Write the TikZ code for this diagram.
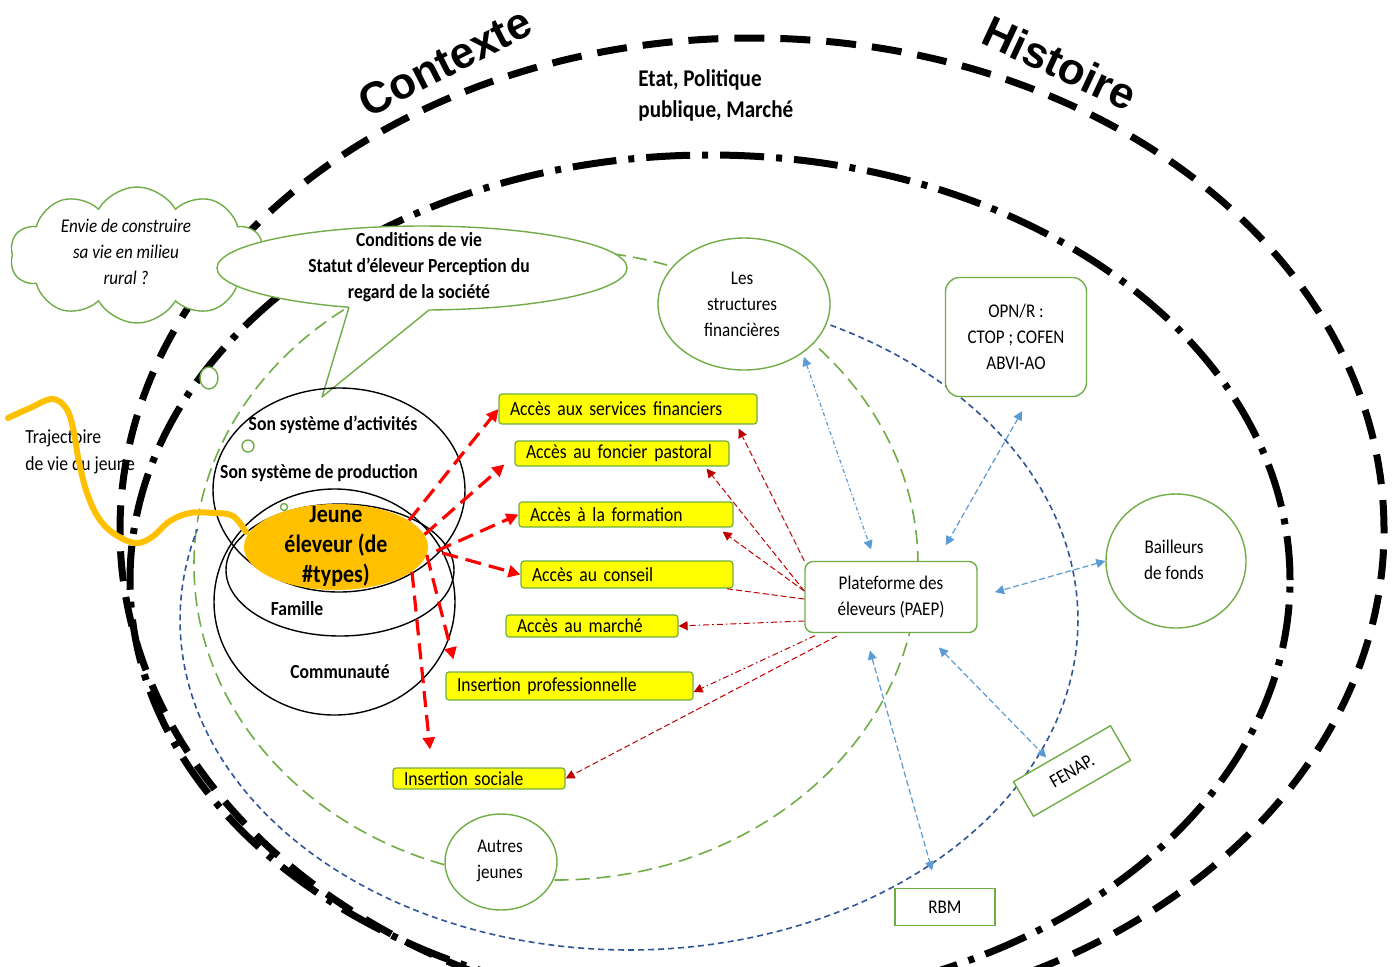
\documentclass[tikz,border=0pt]{standalone}
\usepackage{fontspec}
\setmainfont{Carlito}[FakeStretch=0.88]
\newfontfamily\titlefont{Liberation Sans}
\usetikzlibrary{shapes.geometric,shapes.symbols,arrows.meta}
\definecolor{vert}{RGB}{112,173,71}
\definecolor{bleu}{RGB}{47,85,151}
\definecolor{bleuc}{RGB}{91,155,213}
\definecolor{rouge}{RGB}{255,0,0}
\definecolor{rougef}{RGB}{192,0,0}
\definecolor{orangej}{RGB}{255,192,0}
\definecolor{jaune}{RGB}{255,255,0}
\tikzset{
 outerdash/.style={line width=3.5pt, dash pattern=on 15pt off 8pt},
 innerdashdot/.style={line width=3.5pt, dash pattern=on 22pt off 6pt on 3pt off 6pt},
 greendash/.style={draw=vert, line width=0.8pt, dash pattern=on 7pt off 3.5pt},
 bluedash/.style={draw=bleu, line width=0.8pt, dash pattern=on 3pt off 2pt},
 blackell/.style={ellipse, draw=black, line width=0.7pt, inner sep=0pt},
 greennode/.style={draw=vert, line width=0.7pt, fill=white, inner sep=0pt},
 txt/.style={font=\fontsize{9.7}{13}\selectfont, align=center},
 boldtxt/.style={font=\bfseries\fontsize{10}{13}\selectfont, align=center},
 ybox/.style={draw=vert, fill=jaune, line width=0.6pt, rounded corners=1.5pt, inner xsep=5.5pt, inner ysep=0pt, align=left, font=\fontsize{10}{12}\selectfont},
 rarrow/.style={draw=rouge, line width=1.6pt, dash pattern=on 8pt off 4pt, -{Triangle[length=6pt,width=6pt]}},
 drarrow/.style={draw=rougef, line width=0.5pt, dash pattern=on 3pt off 1.5pt, -{Triangle[length=4.5pt,width=4.5pt]}},
 drline/.style={draw=rougef, line width=0.5pt, dash pattern=on 3pt off 1.5pt},
 drdashdot/.style={draw=rougef, line width=0.5pt, dash pattern=on 3pt off 1.5pt on 0.8pt off 1.5pt, -{Triangle[length=4.5pt,width=4.5pt]}},
 barrow/.style={draw=bleuc, line width=0.6pt, dash pattern=on 3pt off 1.5pt, {Triangle[length=4.5pt,width=4.5pt]}-{Triangle[length=4.5pt,width=4.5pt]}},
 barrowdot/.style={barrow, dash pattern=on 2pt off 1.2pt on 0.6pt off 1.2pt},
}
\begin{document}
\begin{tikzpicture}[x=0.5pt,y=-0.5pt]
\useasboundingbox (0,0) rectangle (1392,966);
\fill[white] (0,0) rectangle (1392,966);
\begin{scope}
\clip (0,0) rectangle (1392,966);
\draw[outerdash] (752,530) ellipse [x radius=316pt, y radius=246pt];
\draw[innerdashdot] (710,580) ellipse [x radius=290pt, y radius=212.5pt];
\end{scope}

% titles
\node[font=\titlefont\bfseries\fontsize{22}{24}\selectfont, rotate=27] (ctx) at (445,62) {Contexte};
\node[font=\titlefont\bfseries\fontsize{22}{24}\selectfont, rotate=-25] (hist) at (1060,63) {Histoire};
\node[font=\bfseries\fontsize{12}{15.5}\selectfont, align=left, anchor=west, inner sep=0pt] (etat) at (638,95) {Etat, Politique\\publique, Marché};

% green and blue loops
\draw[greendash] (556,565) ellipse [x radius=181pt, y radius=157.5pt];
\draw[bluedash] plot[domain=-66:196, samples=160, variable=\t] ({629+449*cos(\t)},{620+330*sin(\t)});

% cloud
\node[cloud, cloud puffs=10, cloud puff arc=120, aspect=1.9, draw=vert, fill=white, line width=0.7pt, minimum width=127pt, minimum height=68pt, inner sep=0pt] (cloud) at (137,255) {};
\node[font=\itshape\fontsize{9.7}{13}\selectfont, align=center] (cloudtxt) at (126,252) {Envie de construire\\sa vie en milieu\\rural ?};
\node[ellipse, greennode, minimum width=9pt, minimum height=11pt] (c1) at (209,378) {};

% speech bubble
\node[ellipse, greennode, minimum width=205pt, minimum height=42pt] (bulle) at (422,268) {};
\fill[white] (349,307.3) -- (322,397) -- (429,310) -- (429,300) -- (349,300) -- cycle;
\draw[vert, line width=0.7pt, line join=round] (349,307.3) -- (322,397) -- (429,310);
\node[boldtxt] (bulletxt) at (419,267) {Conditions de vie\\Statut d’éleveur Perception du\\regard de la société};

% nested ellipses
\node[blackell, minimum width=120.5pt, minimum height=113pt] (comm) at (334.5,602) {};
\node[blackell, minimum width=114pt, minimum height=66pt] (fam) at (340,570) {};
\node[blackell, minimum width=126pt, minimum height=102pt] (sys) at (339,490) {};
\node[ellipse, fill=orangej, inner sep=0pt, minimum width=92pt, minimum height=43pt] (jeune) at (336,547) {};
\node[circle, greennode, minimum size=6pt] (c2) at (248,446) {};
\node[circle, greennode, minimum size=3.5pt] (c3) at (284,507) {};
\node[boldtxt] (l1) at (333,425) {Son système d’activités};
\node[boldtxt] (l2) at (319,473) {Son système de production};
\node[boldtxt] (l3) at (297,609) {Famille};
\node[boldtxt] (l4) at (340,672) {Communauté};
\node[font=\bfseries\fontsize{12.5}{15}\selectfont, align=center] (jeunetxt) at (336,546) {Jeune\\éleveur (de\\\#types)};

% trajectory
\node[font=\fontsize{10}{13.5}\selectfont, align=left, anchor=west, inner sep=0pt] (traj) at (25,452) {Trajectoire\\de vie du jeune};
\draw[orangej, line width=3pt, line cap=round, line join=round] plot[smooth, tension=0.6] coordinates {(8,418) (30,408) (52,399) (66,408) (73,428) (79,462) (87,493) (98,517) (113,533) (135,543) (152,537) (170,521) (190,513) (214,513) (233,516) (246,532)};

% yellow boxes
\node[ybox, text width=118pt, minimum height=15pt] (a1) at (628,409) {Accès aux services financiers};
\node[ybox, text width=96pt, minimum height=12.5pt] (a2) at (622,453.5) {Accès au foncier pastoral};
\node[ybox, text width=96pt, minimum height=12.5pt] (a3) at (626,514.5) {Accès à la formation};
\node[ybox, text width=95pt, minimum height=13.5pt] (a4) at (627,574.5) {Accès au conseil};
\node[ybox, text width=75pt, minimum height=11pt] (a5) at (592,626) {Accès au marché};
\node[ybox, text width=112.5pt, minimum height=14pt] (a6) at (569.5,686) {Insertion professionnelle};
\node[ybox, text width=75pt, minimum height=10.5pt] (a7) at (479,778.5) {Insertion sociale};

% other nodes
\node[ellipse, greennode, minimum width=86pt, minimum height=66pt] (sf) at (744,304) {};
\node[txt] (sftxt) at (742,304) {Les\\structures\\financières};
\node[rectangle, rounded corners=7pt, greennode, minimum width=70.5pt, minimum height=59.5pt, txt] (opn) at (1016,337) {OPN/R :\\CTOP ; COFEN\\ABVI-AO};
\node[rectangle, rounded corners=4pt, greennode, minimum width=86pt, minimum height=35.5pt, txt] (plat) at (891,597) {Plateforme des\\éleveurs (PAEP)};
\node[ellipse, greennode, minimum width=70pt, minimum height=67pt] (bail) at (1176,561) {};
\node[txt] (bailtxt) at (1174,560) {Bailleurs\\de fonds};
\node[ellipse, greennode, minimum width=56pt, minimum height=48pt] (autres) at (501,862) {};
\node[txt] (autrestxt) at (500,861) {Autres\\jeunes};
\node[rectangle, greennode, minimum width=50pt, minimum height=18.5pt, txt] (rbm) at (945,907) {RBM};
\node[rectangle, greennode, rotate=30, minimum width=56pt, minimum height=20pt, txt] (fenap) at (1072,771) {FENAP.};

% red thick arrows
\draw[rarrow] (jeune.20) -- (a1.west);
\draw[rarrow] (jeune.8) -- ([xshift=-5pt,yshift=-5.5pt]a2.west);
\draw[rarrow] ([shift={(4pt,-2pt)}]jeune.east) -- (a3.west);
\draw[rarrow] ([shift={(7pt,-3pt)}]jeune.east) -- (a4.west);
\draw[rarrow] (jeune.-5) -- ([xshift=4pt,yshift=6pt]a6.north west);
\draw[rarrow] (jeune.-18) -- ([xshift=-24.5pt,yshift=9pt]a7.north);

% dark red thin arrows
\draw[drarrow] (plat.north west) -- ([xshift=-9.5pt,yshift=-2pt]a1.south east);
\draw[drarrow] ([yshift=3pt]plat.west) -- ([xshift=-11.5pt,yshift=-1pt]a2.south east);
\draw[drarrow] ([yshift=3pt]plat.west) -- ([xshift=-5.5pt,yshift=-2pt]a3.south east);
\draw[drline] ([yshift=-1pt]plat.west) -- ([xshift=-4pt]a4.south east);
\draw[drdashdot] ([yshift=-12pt]plat.west) -- (a5.east);
\draw[drdashdot, shorten <=3pt] ([xshift=8pt]plat.south west) -- ([yshift=-3pt]a6.east);
\draw[drarrow, shorten <=3pt] ([xshift=19pt]plat.south west) -- (a7.east);

% light blue double arrows
\draw[barrowdot, shorten <=2pt, shorten >=6pt] (sf.-40) -- ([xshift=-8pt]plat.north);
\draw[barrow, shorten <=8pt, shorten >=9pt] ([xshift=7pt]opn.south) -- ([xshift=23pt]plat.north);
\draw[barrow, shorten >=9pt] (bail.west) -- (plat.east);
\draw[barrow, shorten <=9pt, shorten >=9pt] ([xshift=-13pt]plat.south) -- ([xshift=-4pt]rbm.north);
\draw[barrow, shorten <=10pt, shorten >=2pt] ([xshift=17pt]plat.south) -- (fenap.125);
\end{tikzpicture}
\end{document}
